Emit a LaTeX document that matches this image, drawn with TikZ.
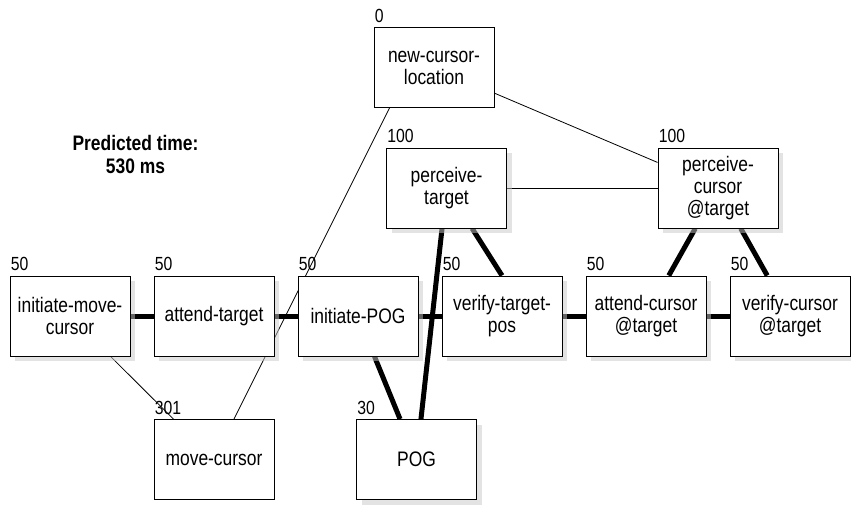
\documentclass[tikz,border=0pt]{standalone}
\usepackage{fontspec}
\setmainfont{Liberation Sans}[FakeStretch=0.83]
\usetikzlibrary{shadows,backgrounds,calc}

\begin{document}
\begin{tikzpicture}[x=1pt,y=-1pt,
  op/.style={draw,fill=white,line width=0.9pt,minimum width=120pt,minimum height=80pt,
    align=center,inner sep=2pt,font=\fontsize{21}{22}\selectfont},
  shade/.style={drop shadow={shadow xshift=5pt,shadow yshift=-5pt,fill=black!22}},
  dur/.style={label={[anchor=base west,inner sep=0pt,xshift=1pt,yshift=5pt,
    font=\fontsize{19}{20}\selectfont]north west:#1}},
  crit/.style={line width=5pt},
  dep/.style={line width=0.8pt}]
  \useasboundingbox (0,0) rectangle (851,504);

  % operators
  \node[op,dur=0] (ncl) at (434,67.5) {new-cursor-\\location};
  \node[op,shade,dur=100] (ptgt) at (446.5,188) {perceive-\\target};
  \node[op,shade,dur=100] (pcur) at (718,188) {perceive-\\cursor\\@target};
  \node[op,shade,dur=50] (imc) at (70,316) {initiate-move-\\cursor};
  \node[op,shade,dur=50] (atgt) at (214,316) {attend-target};
  \node[op,shade,dur=50] (ipog) at (358,316) {initiate-POG};
  \node[op,shade,dur=50] (vtp) at (502,316) {verify-target-\\pos};
  \node[op,shade,dur=50] (acur) at (646,316) {attend-cursor\\@target};
  \node[op,shade,dur=50] (vcur) at (790,316) {verify-cursor\\@target};
  \node[op,dur=301] (mcur) at (214,459.5) {move-cursor};
  \node[op,shade,dur=30] (pog) at (416.5,459.5) {POG};

  \node[font=\bfseries\fontsize{21}{23}\selectfont,align=center] (ptime) at (135.5,155)
    {Predicted time:\\530 ms};

  \begin{scope}[on background layer]
    % critical path
    \draw[crit] (imc) -- (atgt);
    \draw[crit] (atgt) -- (ipog);
    \draw[crit] (ipog) -- (vtp);
    \draw[crit] (vtp) -- (acur);
    \draw[crit] (acur) -- (vcur);
    \draw[crit] (ptgt) -- (vtp.north);
    \draw[crit] (ptgt) -- (pog);
    \draw[crit] (ipog) -- (pog);
    \draw[crit] (pcur) -- (acur);
    \draw[crit] (pcur) -- (vcur);
    % other dependencies
    \draw[dep] (ncl) -- (pcur);
    \draw[dep] (ptgt) -- (pcur);
    \draw[dep] ($(ncl.south west)+(16,0)$) -- ($(mcur.north)+(20,0)$);
    \draw[dep] (imc) -- (mcur);
  \end{scope}
\end{tikzpicture}
\end{document}
